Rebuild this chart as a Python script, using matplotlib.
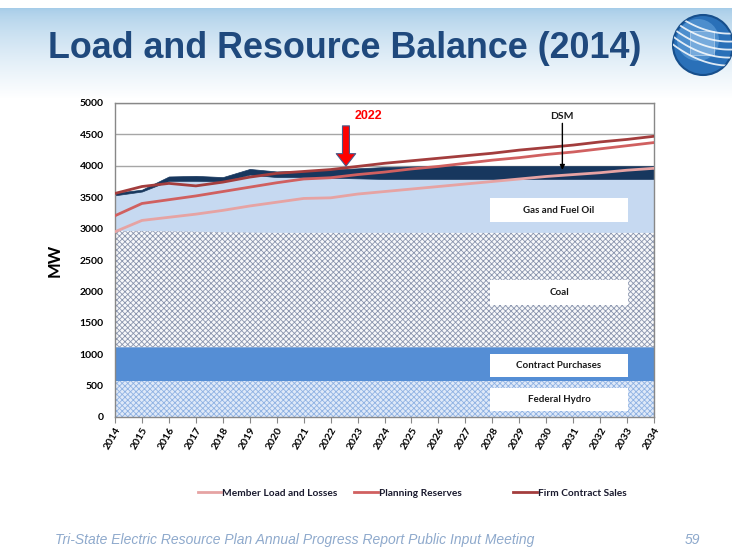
import numpy as np
import matplotlib
matplotlib.use("Agg")
import matplotlib.pyplot as plt
from matplotlib.patches import Rectangle, Circle

plt.rcParams['font.family'] = ['Lato', 'DejaVu Sans']
plt.rcParams['hatch.linewidth'] = 0.6

# ---------------- data ----------------
years = list(range(2014, 2035))
federal_hydro = [570] * 21
contract_purchases = [540] * 21
coal = [1860, 1860, 1855, 1850, 1840, 1835, 1830, 1830, 1830, 1830, 1830,
        1830, 1830, 1830, 1830, 1830, 1830, 1830, 1830, 1830, 1830]
gas_fuel_oil = [560, 620, 795, 800, 800, 915, 880, 880, 870, 860, 850,
                850, 850, 850, 850, 850, 850, 850, 850, 850, 850]
dsm = [40, 30, 70, 80, 70, 90, 90, 100, 130, 160, 190,
       200, 205, 205, 205, 205, 205, 205, 205, 205, 205]
member_load = [2950, 3130, 3180, 3230, 3290, 3360, 3420, 3480, 3490, 3550, 3590,
               3630, 3670, 3710, 3750, 3790, 3830, 3860, 3890, 3930, 3960]
planning_reserves = [3205, 3400, 3460, 3520, 3590, 3660, 3730, 3790, 3810, 3860, 3900,
                     3950, 3990, 4040, 4090, 4130, 4180, 4220, 4270, 4320, 4370]
firm_contract_sales = [3560, 3670, 3720, 3680, 3740, 3820, 3880, 3910, 3940, 3990, 4040,
                       4080, 4120, 4160, 4200, 4250, 4290, 4330, 4380, 4420, 4470]
yticks = [0, 500, 1000, 1500, 2000, 2500, 3000, 3500, 4000, 4500, 5000]

W, H = 732, 548
fig = plt.figure(figsize=(W / 100, H / 100), dpi=100)

# ---------------- background ----------------
bg = fig.add_axes([0, 0, 1, 1], zorder=-10)
bg.set_xlim(0, W)
bg.set_ylim(H, 0)
bg.axis('off')
rows = np.ones((H, 1, 3))
top = np.array([0.65, 0.80, 0.91])
for r in range(H):
    if r < 8:
        continue
    t = min(1.0, (r - 8) / 90.0)
    t = t ** 0.7
    rows[r, 0, :] = top * (1 - t) + np.ones(3) * t
bg.imshow(rows, extent=[0, W, H, 0], aspect='auto')

# logo
cx, cy, rr = 703, 45, 30
circ = Circle((cx, cy), rr, facecolor='#2a70b8', edgecolor='#174f8c', lw=1.5)
bg.add_patch(circ)
glow = Circle((cx - 5, cy - 5), rr * 0.7, facecolor='#6aa8e0', edgecolor='none', alpha=0.55)
bg.add_patch(glow)
glow.set_clip_path(circ)
tt = np.linspace(-1.2, 1.2, 50)
for off in [-16, -8, 0, 8, 16]:
    xs = cx + tt * rr
    ys = cy + off + 0.35 * (tt * rr) - 6 * tt ** 2
    ln, = bg.plot(xs, ys, color='white', lw=1.3, alpha=0.85)
    ln.set_clip_path(circ)
sq = Rectangle((cx - 13, cy - 14), 24, 24, facecolor='#a9cdf0', edgecolor='white', lw=0.6, alpha=0.45)
bg.add_patch(sq)
sq.set_clip_path(circ)

# title
fig.text(48 / W, 1 - 48 / H, 'Load and Resource Balance (2014)', fontsize=25.8,
         fontweight='bold', color='#1f497d', family='Liberation Sans', va='center', ha='left')

# footer
fig.text(55 / W, 1 - 540 / H, 'Tri-State Electric Resource Plan Annual Progress Report Public Input Meeting',
         fontsize=10, style='italic', color='#8ea9cc', family='Liberation Sans', va='center', ha='left')
fig.text(685 / W, 1 - 540 / H, '59', fontsize=10, style='italic', color='#8ea9cc',
         family='Liberation Sans', va='center', ha='left')

# ---------------- chart ----------------
ax = fig.add_axes([115 / W, 1 - 417 / H, (654 - 115) / W, (417 - 103) / H])
ax.set_facecolor('white')
x = np.array(years)
layers = [np.array(federal_hydro), np.array(contract_purchases), np.array(coal),
          np.array(gas_fuel_oil), np.array(dsm)]
cum = np.cumsum(np.vstack([np.zeros(21)] + layers), axis=0)

# hydro
ax.fill_between(x, cum[0], cum[1], facecolor='#dfe9f8', edgecolor='#8fb2e3', hatch='xxxxxx',
                lw=0, zorder=2)
# contract purchases
ax.fill_between(x, cum[1], cum[2], facecolor='#558ed5', edgecolor='#558ed5', lw=0, zorder=2)
# coal
ax.fill_between(x, cum[2], cum[3], facecolor='#f7f8fa', edgecolor='#8a95ae', hatch='xxxxxx',
                lw=0, zorder=2)
# gas & fuel oil
ax.fill_between(x, cum[3], cum[4], facecolor='#c6d9f1', edgecolor='#c6d9f1', lw=0, zorder=2)
# DSM
ax.fill_between(x, cum[4], cum[5], facecolor='#17375e', edgecolor='#17375e', lw=0.5, zorder=2)

l1, = ax.plot(x, member_load, color='#e6a3a3', lw=2, zorder=4, label='Member Load and Losses')
l2, = ax.plot(x, planning_reserves, color='#d06060', lw=2, zorder=4, label='Planning Reserves')
l3, = ax.plot(x, firm_contract_sales, color='#a33d3d', lw=2, zorder=4, label='Firm Contract Sales')

ax.set_xlim(2014, 2034)
ax.set_ylim(0, 5000)
ax.set_yticks(yticks)
ax.set_xticks(years)
ax.set_xticklabels([str(y) for y in years], rotation=60, ha='right', rotation_mode='anchor',
                   fontsize=7.5, fontweight='bold')
ax.set_yticklabels([str(v) for v in yticks], fontsize=7.5, fontweight='bold')
ax.yaxis.grid(True, color='#a6a6a6', lw=1, zorder=1)
ax.set_axisbelow(True)
for s in ax.spines.values():
    s.set_color('#888888')
    s.set_linewidth(1)
ax.tick_params(axis='x', length=4, color='#888888', pad=2, direction='out')
ax.tick_params(axis='y', length=0, pad=8)
ax.set_ylabel('MW', fontsize=12, fontweight='bold', labelpad=12)

# label boxes
def label_box(y0, y1, text):
    ax.add_patch(Rectangle((2027.9, y0), 5.15, y1 - y0, facecolor='white', edgecolor='none', zorder=5))
    ax.text(2027.9 + 5.15 / 2, (y0 + y1) / 2, text, ha='center', va='center', fontsize=7,
            fontweight='bold', color='#1a1a1a', zorder=6)

label_box(3105, 3487, 'Gas and Fuel Oil')
label_box(1783, 2181, 'Coal')
label_box(637, 1003, 'Contract Purchases')
label_box(96, 462, 'Federal Hydro')

# 2022 arrow
ax.annotate('', xy=(2022.57, 3950), xytext=(2022.57, 4680),
            arrowprops=dict(arrowstyle='simple,head_width=1.4,head_length=0.9,tail_width=0.5',
                            mutation_scale=10, fc='#ff0000', ec='#4a5a8a', lw=0.8), zorder=7)
ax.text(2023.4, 4790, '2022', color='#ff0000', fontsize=9, fontweight='bold',
        family='Liberation Sans', ha='center', va='center', zorder=7)

# DSM arrow
ax.annotate('', xy=(2030.6, 3890), xytext=(2030.6, 4720),
            arrowprops=dict(arrowstyle='-|>', color='black', lw=1, mutation_scale=7), zorder=7)
ax.text(2030.6, 4790, 'DSM', fontsize=7.5, fontweight='bold', ha='center', va='center',
        color='#1a1a1a', zorder=7)

# legend (three entries placed as in the original)
for handle, xc in [(l1, 268 / W), (l2, 408 / W), (l3, 570 / W)]:
    fig.legend(handles=[handle], loc='center', bbox_to_anchor=(xc, 1 - 493 / H), ncol=1,
               frameon=False, prop={'weight': 'bold', 'size': 7.3}, handlelength=2.3,
               handletextpad=0.1, borderpad=0, labelcolor='#1a1a2e')

fig.savefig('out.png', dpi=100)
